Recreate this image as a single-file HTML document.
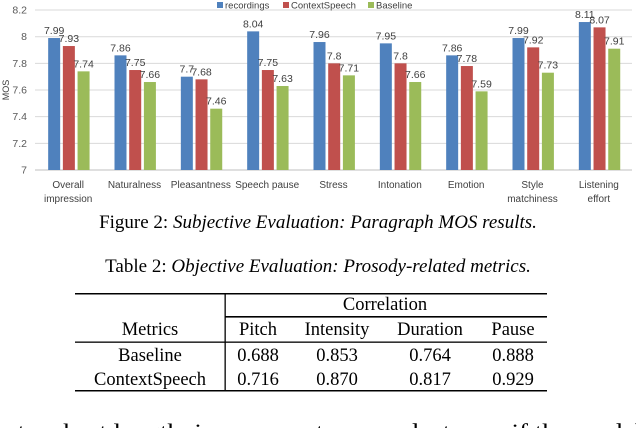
<!DOCTYPE html>
<html><head><meta charset="utf-8"><style>
body{margin:0;width:636px;height:428px;overflow:hidden;background:#fff;position:relative}
svg{position:absolute;left:0;top:0}
.cap{position:absolute;left:0;width:636px;text-align:center;font-family:"Liberation Serif",serif;font-size:19px;color:#000}
</style></head><body>
<svg id="chart" width="636" height="210" font-family="Liberation Sans, sans-serif"></svg>
<div class="cap" style="top:212px">Figure 2: <i>Subjective Evaluation: Paragraph MOS results.</i></div>
<div class="cap" style="top:256px">Table 2: <i>Objective Evaluation: Prosody-related metrics.</i></div>
<svg width="636" height="428" font-family="Liberation Serif, serif" font-size="18.5" style="pointer-events:none">
<rect x="75" y="293" width="472" height="1.5" fill="#000"/>
<rect x="225" y="316" width="322" height="1.6" fill="#000"/>
<rect x="75" y="341.5" width="472" height="1.3" fill="#000"/>
<rect x="75" y="390" width="472" height="1.5" fill="#000"/>
<rect x="224.5" y="293" width="1.3" height="98" fill="#000"/>
<g text-anchor="middle">
<text x="385" y="310">Correlation</text>
<text x="150" y="335">Metrics</text><text x="258" y="335">Pitch</text><text x="337" y="335">Intensity</text><text x="430" y="335">Duration</text><text x="513" y="335">Pause</text>
<text x="150" y="361">Baseline</text><text x="258" y="361">0.688</text><text x="337" y="361">0.853</text><text x="430" y="361">0.764</text><text x="513" y="361">0.888</text>
<text x="150" y="385">ContextSpeech</text><text x="258" y="385">0.716</text><text x="337" y="385">0.870</text><text x="430" y="385">0.817</text><text x="513" y="385">0.929</text>
</g>
<text x="-8" y="439" font-size="22" textLength="650" lengthAdjust="spacingAndGlyphs">extra short length, i.e., one or two words, to see if the model</text>
</svg>
<script>
const categories=[["Overall","impression"],["Naturalness"],["Pleasantness"],["Speech pause"],["Stress"],["Intonation"],["Emotion"],["Style","matchiness"],["Listening","effort"]];
const recordings=[7.99,7.86,7.7,8.04,7.96,7.95,7.86,7.99,8.11];
const contextSpeech=[7.93,7.75,7.68,7.75,7.8,7.8,7.78,7.92,8.07];
const baseline=[7.74,7.66,7.46,7.63,7.71,7.66,7.59,7.73,7.91];
const yTicks=[7,7.2,7.4,7.6,7.8,8,8.2];
const seriesNames=["recordings","ContextSpeech","Baseline"];
const colors=["#4f81bd","#c0504d","#9bbb59"];
const svg=document.getElementById('chart');
const NS="http://www.w3.org/2000/svg";
const x0=35,x1=632,bw=(x1-x0)/categories.length;
const y=v=>170-(v-7)*133.3;
function mk(t,a,txt){const e=document.createElementNS(NS,t);for(const k in a)e.setAttribute(k,a[k]);if(txt!==undefined)e.textContent=txt;svg.appendChild(e);return e;}
yTicks.forEach(t=>{
 const l=mk('line',{x1:x0,x2:x1,y1:y(t),y2:y(t),stroke:t===7?'#bfbfbf':'#d9d9d9'});
 
 
 const tx=mk('text',{x:27,y:y(t)+3.5,'font-size':10.5,'text-anchor':'end',fill:'#595959'},String(t));
 
 
});
const yt=mk('text',{x:9,y:90,'font-size':9,'text-anchor':'middle',fill:'#404040',transform:'rotate(-90 9 90)'},'MOS');


const series=[recordings,contextSpeech,baseline];
categories.forEach((c,i)=>{
 const cx=x0+bw*(i+0.5);
 series.forEach((s,j)=>{
  const bx=cx-20+j*14.7;
  const r=mk('rect',{x:bx,y:y(s[i]),width:12,height:170-y(s[i]),fill:colors[j]});
  
  
  const v=mk('text',{x:bx+6,y:y(s[i])-4,'font-size':10.5,'text-anchor':'middle',fill:'#404040'},String(s[i]));
  
  
 });
 c.forEach((ln,k)=>{
  const t=mk('text',{x:cx,y:188+k*14,'font-size':10,'text-anchor':'middle',fill:'#404040'},ln);
  
  
 });
});
const lx=[217,283,368];
seriesNames.forEach((n,j)=>{
 const r=mk('rect',{x:lx[j],y:2,width:6,height:6,fill:colors[j]});
 
 
 const t=mk('text',{x:lx[j]+8,y:8.5,'font-size':9.5,fill:'#404040'},n);
 
 
});
</script>
</body></html>
